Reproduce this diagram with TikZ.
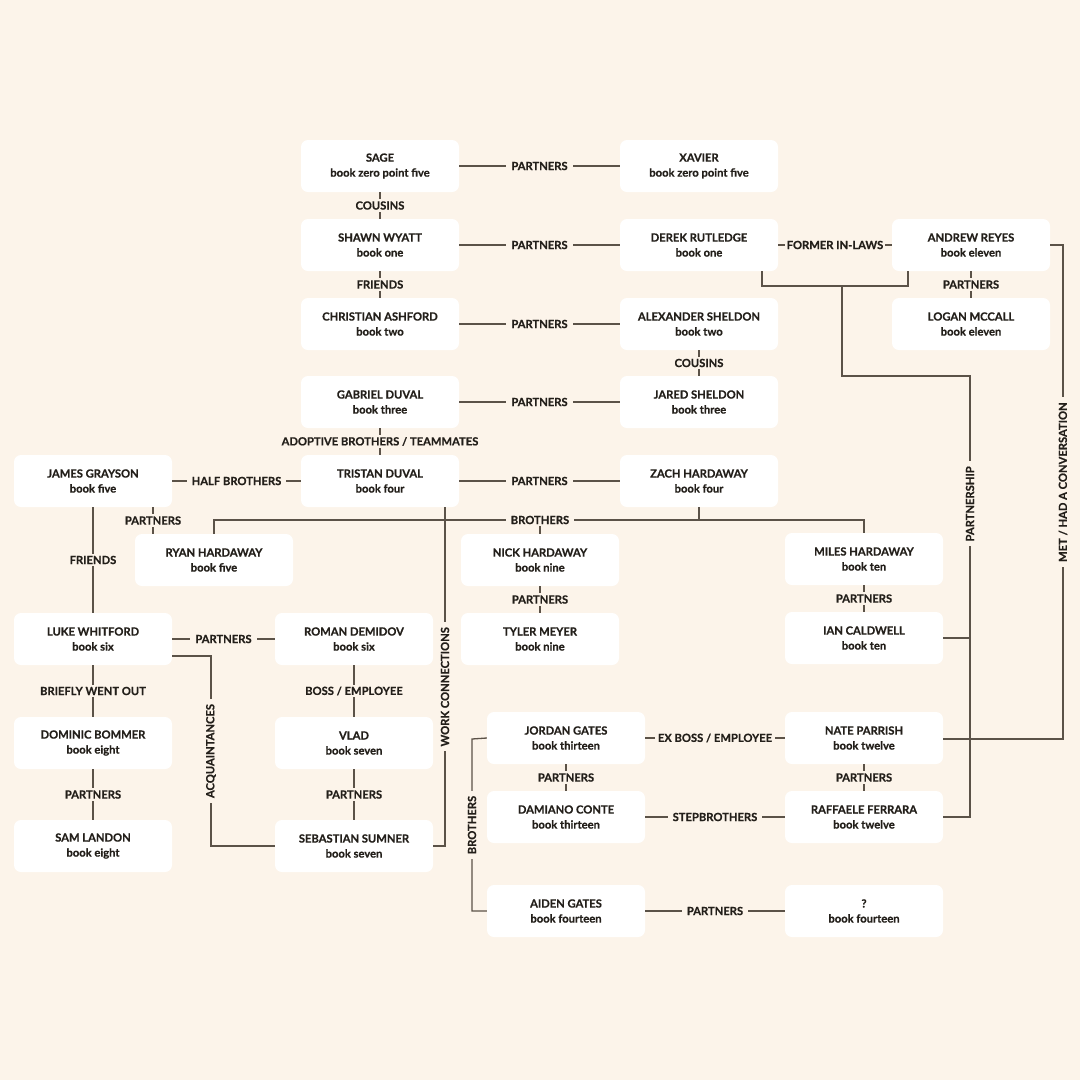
\documentclass[tikz,border=0pt]{standalone}
\usepackage{fontspec}
\setmainfont{Lato}[BoldFeatures={FakeBold=0.6}]
\definecolor{bg}{HTML}{FCF4EA}
\definecolor{ink}{HTML}{231F1A}
\definecolor{wire}{HTML}{5B5248}
\begin{document}
\begin{tikzpicture}[x=1pt,y=-1pt,
  box/.style={fill=white,rounded corners=7pt,minimum width=158pt,minimum height=52pt,
    align=center,inner sep=0pt,text=ink,font=\fontsize{11.2}{15}\selectfont\bfseries},
  lbl/.style={fill=bg,inner xsep=5pt,inner ysep=2pt,text=ink,font=\fontsize{11.2}{12}\selectfont\bfseries},
  wline/.style={draw=wire,line width=1.3pt}]
\fill[bg] (0,0) rectangle (1080,1080);
% nodes
\node[box] (sage) at (380,166) {SAGE\\book zero point five};
\node[box] (xavier) at (699,166) {XAVIER\\book zero point five};
\node[box] (shawn) at (380,245) {SHAWN WYATT\\book one};
\node[box] (derek) at (699,245) {DEREK RUTLEDGE\\book one};
\node[box] (andrew) at (971,245) {ANDREW REYES\\book eleven};
\node[box] (christian) at (380,324) {CHRISTIAN ASHFORD\\book two};
\node[box] (alexander) at (699,324) {ALEXANDER SHELDON\\book two};
\node[box] (logan) at (971,324) {LOGAN MCCALL\\book eleven};
\node[box] (gabriel) at (380,402) {GABRIEL DUVAL\\book three};
\node[box] (jared) at (699,402) {JARED SHELDON\\book three};
\node[box] (tristan) at (380,481) {TRISTAN DUVAL\\book four};
\node[box] (zach) at (699,481) {ZACH HARDAWAY\\book four};
\node[box] (james) at (93,481) {JAMES GRAYSON\\book five};
\node[box] (ryan) at (214,560) {RYAN HARDAWAY\\book five};
\node[box] (nick) at (540,560) {NICK HARDAWAY\\book nine};
\node[box] (miles) at (864,559) {MILES HARDAWAY\\book ten};
\node[box] (tyler) at (540,639) {TYLER MEYER\\book nine};
\node[box] (ian) at (864,638) {IAN CALDWELL\\book ten};
\node[box] (luke) at (93,639) {LUKE WHITFORD\\book six};
\node[box] (roman) at (354,639) {ROMAN DEMIDOV\\book six};
\node[box] (dominic) at (93,743) {DOMINIC BOMMER\\book eight};
\node[box] (vlad) at (354,743) {VLAD\\book seven};
\node[box] (sam) at (93,846) {SAM LANDON\\book eight};
\node[box] (sebastian) at (354,846) {SEBASTIAN SUMNER\\book seven};
\node[box] (jordan) at (566,738) {JORDAN GATES\\book thirteen};
\node[box] (nate) at (864,738) {NATE PARRISH\\book twelve};
\node[box] (damiano) at (566,817) {DAMIANO CONTE\\book thirteen};
\node[box] (raffaele) at (864,817) {RAFFAELE FERRARA\\book twelve};
\node[box] (aiden) at (566,911) {AIDEN GATES\\book fourteen};
\node[box] (unknown) at (864,911) {?\\book fourteen};
% helper coordinates
\coordinate (jr) at (153,520);
\coordinate (bro) at (699,520);
\coordinate (fa) at (762,286);
\coordinate (fb) at (908,286);
\coordinate (p1) at (842,286);
\coordinate (p2) at (842,376);
\coordinate (p3) at (970,376);
\coordinate (m1) at (1063,739);
\coordinate (m2) at (1063,245);
\coordinate (a1) at (211,656);
\coordinate (w1) at (445,520);
\coordinate (g1) at (472,739);
% connectors
\path[wline] (sage) -- node[lbl]{PARTNERS} (xavier);
\path[wline] (sage) -- node[lbl]{COUSINS} (shawn);
\path[wline] (shawn) -- node[lbl]{PARTNERS} (derek);
\path[wline] (derek) -- node[lbl,inner xsep=2pt]{FORMER IN-LAWS} (andrew);
\path[wline] (andrew) -- node[lbl]{PARTNERS} (logan);
\path[wline] (shawn) -- node[lbl]{FRIENDS} (christian);
\path[wline] (christian) -- node[lbl]{PARTNERS} (alexander);
\path[wline] (alexander) -- node[lbl]{COUSINS} (jared);
\path[wline] (gabriel) -- node[lbl]{PARTNERS} (jared);
\path[wline] (gabriel) -- node[lbl]{ADOPTIVE BROTHERS / TEAMMATES} (tristan);
\path[wline] (james) -- node[lbl]{HALF BROTHERS} (tristan);
\path[wline] (tristan) -- node[lbl]{PARTNERS} (zach);
% work connections
\path[wline] (tristan.south -| w1) -- node[lbl,rotate=90,pos=0.53]{WORK CONNECTIONS} (w1 |- sebastian.east) -- (sebastian.east);
% brothers (Hardaway)
\path[wline] (zach.south) -- (bro);
\path[wline] (ryan.north) -- (ryan.north |- bro) -- (miles.north |- bro) -- (miles.north);
\node[lbl] (brolbl) at (nick.north |- bro) {BROTHERS};
\path[wline] (brolbl) -- (nick.north);
% James / Ryan
\path[wline] (james.south -| jr) -- node[lbl]{PARTNERS} (ryan.north -| jr);
\path[wline] (james) -- node[lbl]{FRIENDS} (luke);
\path[wline] (nick) -- node[lbl]{PARTNERS} (tyler);
\path[wline] (miles) -- node[lbl]{PARTNERS} (ian);
\path[wline] (luke) -- node[lbl]{PARTNERS} (roman);
\path[wline] (luke) -- node[lbl]{BRIEFLY WENT OUT} (dominic);
\path[wline] (dominic) -- node[lbl]{PARTNERS} (sam);
\path[wline] (roman) -- node[lbl]{BOSS / EMPLOYEE} (vlad);
\path[wline] (vlad) -- node[lbl]{PARTNERS} (sebastian);
\path[wline] (luke.east |- a1) -- (a1) -- node[lbl,rotate=90]{ACQUAINTANCES} (a1 |- sebastian.west) -- (sebastian.west);
% in-laws bracket and partnership
\path[wline] (derek.south -| fa) -- (fa) -- (fb) -- (andrew.south -| fb);
\path[wline] (p1) -- (p2) -- (p3) -- node[lbl,rotate=90,pos=0.29]{PARTNERSHIP} (p3 |- raffaele.east) -- (raffaele.east);
\path[wline] (ian.east) -- (ian.east -| p3);
% met
\path[wline] (nate.east |- m1) -- (m1) -- node[lbl,rotate=90,pos=0.52]{MET / HAD A CONVERSATION} (m2) -- (andrew.east);
% bottom right group
\path[wline] (jordan) -- node[lbl,inner xsep=3pt]{EX BOSS / EMPLOYEE} (nate);
\path[wline] (jordan) -- node[lbl]{PARTNERS} (damiano);
\path[wline] (nate) -- node[lbl]{PARTNERS} (raffaele);
\path[wline] (damiano) -- node[lbl]{STEPBROTHERS} (raffaele);
\path[wline] (aiden) -- node[lbl]{PARTNERS} (unknown);
\path[wline] (jordan.west) -- (g1) -- node[lbl,rotate=90]{BROTHERS} (g1 |- aiden.west) -- (aiden.west);
\end{tikzpicture}
\end{document}
